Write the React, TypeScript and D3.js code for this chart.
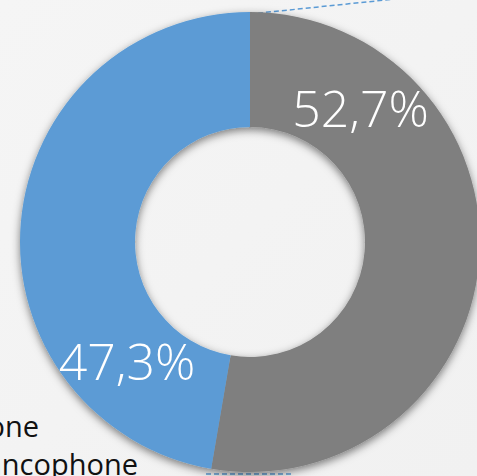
import React from "react";
import * as d3 from "d3";

const categories = ["Anglophone", "Francophone"];
const values = [52.7, 47.3];
const labels = ["52,7%", "47,3%"];
const colors = ["#7F7F7F", "#5B9BD5"];
const legendLabels = ["Anglophone", "Francophone"];

const W = 477;
const H = 476;

export default function App() {
  const cx = 250;
  const cy = 242;
  const outerR = 230;
  const innerR = 115;

  const pie = d3.pie<number>().sort(null).value((d) => d);
  const arcs = pie(values);
  const arcGen = d3.arc<d3.PieArcDatum<number>>().innerRadius(innerR).outerRadius(outerR);
  const midR = (innerR + outerR) / 2;
  const labelFrac = 0.21;

  return (
    <div style={{ position: "fixed", left: 0, top: 0, width: W, height: H, overflow: "hidden" }}>
      <svg width={W} height={H} style={{ display: "block" }}>
        <defs>
          <linearGradient id="bg" x1="0" y1="0" x2="1" y2="1">
            <stop offset="0" stopColor="#f5f5f5" />
            <stop offset="1" stopColor="#f1f1f1" />
          </linearGradient>
          <filter id="sh" x="-20%" y="-20%" width="140%" height="140%">
            <feDropShadow dx="0" dy="3" stdDeviation="4" floodColor="#000" floodOpacity="0.5" />
          </filter>
        </defs>
        <rect x={0} y={0} width={W} height={H} fill="url(#bg)" />
        <line x1={cx} y1={cy - outerR + 2} x2={400} y2={-1.5} stroke="#5B9BD5" strokeWidth={1.5} strokeDasharray="5,3" />
        <line x1={206} y1={474} x2={292} y2={474} stroke="#5B9BD5" strokeWidth={1.5} strokeDasharray="5,3" />
        <g transform={`translate(${cx},${cy})`} filter="url(#sh)">
          {arcs.map((a, i) => (
            <path key={categories[i]} d={arcGen(a) || ""} fill={colors[i]} />
          ))}
        </g>
        <g transform={`translate(${cx},${cy})`}>
          {arcs.map((a, i) => {
            const ang = a.startAngle + (a.endAngle - a.startAngle) * labelFrac;
            const x = Math.sin(ang) * midR;
            const y = -Math.cos(ang) * midR;
            return (
              <text
                key={labels[i]}
                x={x}
                y={y}
                dy="0.35em"
                textAnchor="middle"
                fill="#fff"
                fontFamily="'Open Sans', sans-serif"
                fontWeight={300}
                fontSize={50}
              >
                {labels[i]}
              </text>
            );
          })}
        </g>
        {legendLabels.map((t, i) => (
          <text
            key={t}
            x={i === 0 ? 39 : 138}
            y={437 + i * 38}
            textAnchor="end"
            fill="#111"
            fontFamily="'Open Sans', sans-serif"
            fontSize={29}
          >
            {t}
          </text>
        ))}
      </svg>
    </div>
  );
}
